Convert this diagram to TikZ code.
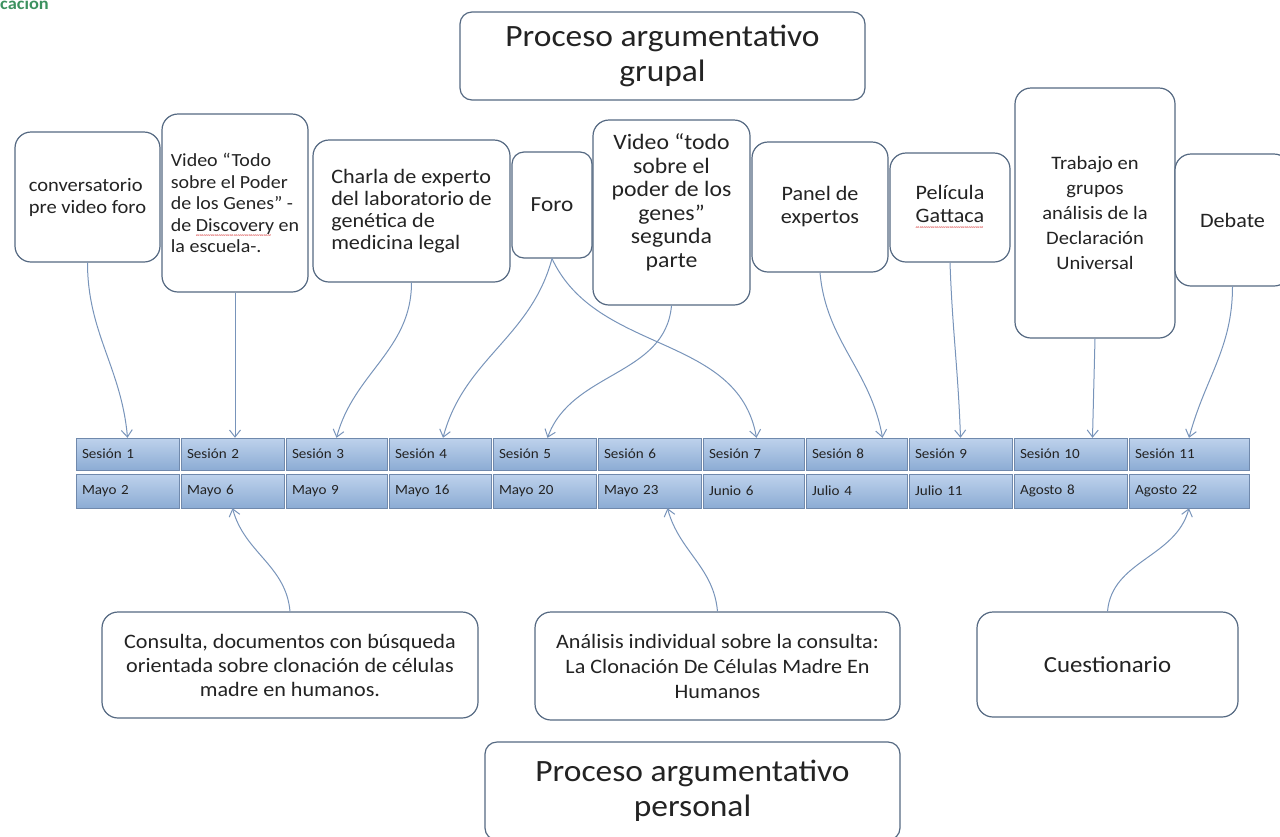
\documentclass[tikz,border=0pt]{standalone}
\usepackage{fontspec}
\setmainfont{Carlito}[FakeStretch=1.08]
\usetikzlibrary{arrows.meta}

\definecolor{bordeCaja}{RGB}{85,105,130}
\definecolor{flechaAzul}{RGB}{120,148,186}
\definecolor{celdaArriba}{RGB}{190,210,236}
\definecolor{celdaAbajo}{RGB}{140,172,212}
\definecolor{bordeCelda}{RGB}{112,137,172}
\definecolor{texto}{RGB}{35,35,35}
\definecolor{verdeTitulo}{RGB}{60,145,95}

% marca ondulada de corrector
\newcommand{\subrayado}[1]{\setbox0\hbox{#1}\rlap{\raisebox{-6.5pt}{\color{red!80!black}\hbox to \wd0{\leaders\hbox{\fontsize{7}{7}\selectfont\char"007E}\hfill}}}#1}

\begin{document}
\begin{tikzpicture}[x=1pt,y=-1pt,
  caja/.style={draw=bordeCaja, line width=1.2pt, rounded corners=16pt, fill=white, text=texto, font=\fontsize{20.5}{23}\selectfont, inner sep=4pt},
  titulo/.style={caja, rounded corners=12pt, font=\fontsize{31}{35}\selectfont},
  celda/.style={draw=bordeCelda, top color=celdaArriba, bottom color=celdaAbajo, text=texto, font=\fontsize{14}{15}\selectfont, align=left, inner xsep=6pt, inner ysep=0pt},
  flecha/.style={draw=flechaAzul, line width=1pt, -{Straight Barb[length=7pt,width=11pt]}}]

  \useasboundingbox (0,0) rectangle (1280,836);

% Encabezado
  \node[anchor=base west, inner sep=0pt, text=verdeTitulo, font=\fontsize{17}{17}\selectfont\bfseries] (encabezado) at (0,9) {cación};

% Procesos
  \node[titulo, minimum width=405, minimum height=88, align=center] (grupal) at (662.5,56) {Proceso argumentativo\\grupal};
  \node[titulo, minimum width=415, minimum height=98, align=center] (personal) at (692.5,791) {Proceso argumentativo\\personal};

% Actividades de grupo
  \node[caja, minimum width=145, minimum height=130, align=left, font=\fontsize{19}{22}\selectfont] (conv) at (87.5,197) {conversatorio\\pre video foro};
  \node[caja, minimum width=146, minimum height=178, align=left, font=\fontsize{18.5}{21.5}\selectfont] (video1) at (235,203) {Video “Todo\\sobre el Poder\\de los Genes” -\\de \subrayado{Discovery} en\\la escuela-.};
  \node[caja, minimum width=197, minimum height=142, align=left, font=\fontsize{20.5}{22}\selectfont] (charla) at (411.5,211) {Charla de experto\\del laboratorio de\\genética de\\medicina legal};
  \node[caja, minimum width=80, minimum height=106, rounded corners=12pt, font=\fontsize{21.5}{23}\selectfont] (foro) at (552,205) {Foro};
  \node[caja, minimum width=157, minimum height=185, align=center, font=\fontsize{22}{23.5}\selectfont] (video2) at (671.5,212.5) {Video “todo\\sobre el\\poder de los\\genes”\\segunda\\parte\\\mbox{}};
  \node[caja, minimum width=136, minimum height=130, align=center] (panel) at (820,207) {Panel de\\expertos};
  \node[caja, minimum width=120, minimum height=109, align=center] (gattaca) at (950,207.5) {Película\\\subrayado{Gattaca}};
  \node[caja, minimum width=160, minimum height=250, align=center, font=\fontsize{19}{25}\selectfont] (trabajo) at (1095,213) {Trabajo en\\grupos\\análisis de la\\Declaración\\Universal};
  \node[caja, minimum width=115, minimum height=132] (debate) at (1232.5,220) {Debate};

% Actividades personales
  \node[caja, minimum width=376, minimum height=106, align=center, font=\fontsize{20.5}{24}\selectfont] (consulta) at (290,665) {Consulta, documentos con búsqueda\\orientada sobre clonación de células\\madre en humanos.};
  \node[caja, minimum width=365, minimum height=108, align=center, font=\fontsize{20.5}{25}\selectfont] (analisis) at (717.5,666) {Análisis individual sobre la consulta:\\La Clonación De Células Madre En\\Humanos};
  \node[caja, minimum width=261, minimum height=105, font=\fontsize{23}{25}\selectfont] (cuestionario) at (1107.5,664.5) {Cuestionario};

% Sesiones y fechas
  \foreach \k/\xa/\xb/\fecha in {1/75/180/Mayo 2, 2/180/285/Mayo 6, 3/285/388/Mayo 9, 4/388/492/Mayo 16, 5/492/597/Mayo 20, 6/597/702/Mayo 23, 7/702/805/Junio 6, 8/805/908/Julio 4, 9/908/1013/Julio 11, 10/1013/1128/Agosto 8, 11/1128/1250/Agosto 22}{
  \pgfmathparse{(\xa+\xb)/2}
  \let\xc\pgfmathresult
  \pgfmathparse{\xb-\xa-2}
  \let\ancho\pgfmathresult
  \pgfmathparse{\ancho-12}
  \let\anchotexto\pgfmathresult
  \node[celda, minimum width=\ancho, text width=\anchotexto pt, minimum height=32] (s\k) at (\xc,454) {Sesión \k};
  \node[celda, minimum width=\ancho, text width=\anchotexto pt, minimum height=34] (f\k) at (\xc,491) {\fecha};
  }

% Flechas hacia las sesiones
  \draw[flecha] (conv.south) to[out=-90,in=95] (s1.north);
  \draw[flecha] (video1.south) -- (video1.south |- s2.north);
  \draw[flecha] (charla.south) to[out=-90,in=75] (s3.north);
  \draw[flecha] (foro.south) to[out=-105,in=75] ([xshift=3]s4.north);
  \draw[flecha] (foro.south) to[out=-65,in=100] ([xshift=3]s7.north);
  \draw[flecha] (video2.south) to[out=-95,in=70] ([xshift=3]s5.north);
  \draw[flecha] (panel.south) to[out=-85,in=100] ([xshift=26]s8.north);
  \draw[flecha] (gattaca.south) to[out=-88,in=92] (s9.north);
  \draw[flecha] (trabajo.south) -- ([xshift=22]s10.north);
  \draw[flecha] (debate.south) to[out=-90,in=75] (s11.north);

% Flechas hacia las fechas
  \draw[flecha] (consulta.north) to[out=95,in=-75] (f2.south);
  \draw[flecha] (analisis.north) to[out=95,in=-75] ([xshift=18]f6.south);
  \draw[flecha] (cuestionario.north) to[out=85,in=-105] (f11.south);

\end{tikzpicture}
\end{document}
